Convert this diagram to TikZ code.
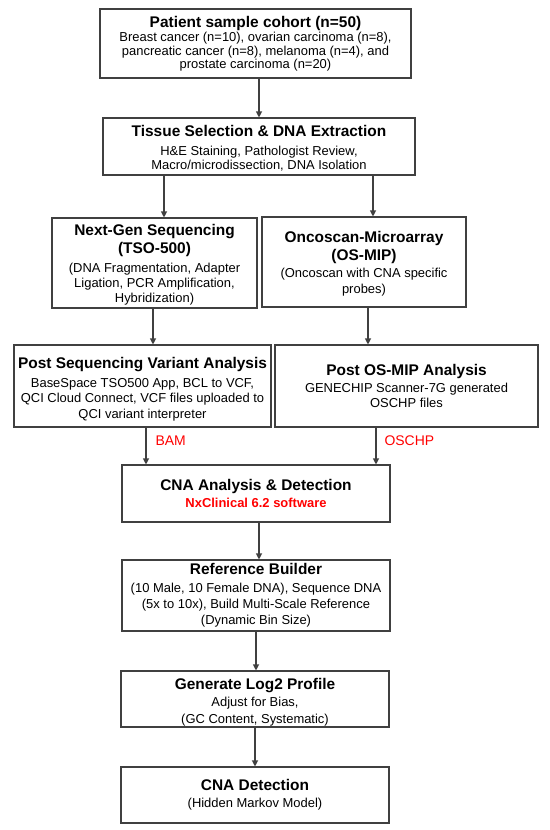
\documentclass[tikz,border=0pt]{standalone}
\usepackage{fontspec}
\setmainfont{Liberation Sans}
\usetikzlibrary{arrows.meta}
\definecolor{edge}{HTML}{404040}
\definecolor{lab}{HTML}{FF0000}
\tikzset{
  box/.style={draw=edge, line width=1.1bp, fill=white, align=center, inner xsep=2bp, inner ysep=0bp,
    font=\fontsize{13}{15.5}\selectfont},
  arr/.style={draw=edge, line width=1.1bp, -{Triangle[length=6bp,width=6bp]}},
  redlab/.style={text=lab, font=\fontsize{14}{16}\selectfont, anchor=west, inner sep=0pt}
}
\newcommand{\ttl}[1]{{\fontsize{15.5}{17}\selectfont\bfseries #1}}
\newcommand{\lift}[1]{\rule{0pt}{#1bp}}
\begin{document}
\begin{tikzpicture}[x=1bp,y=-1bp]
\useasboundingbox (0,0) rectangle (550,830);
\node[box, font=\fontsize{13}{13.3}\selectfont, minimum width=311bp, minimum height=69bp] (P) at (255.5,43.5)
  {\ttl{Patient sample cohort (n=50)}\\[1.7bp]Breast cancer (n=10), ovarian carcinoma (n=8),\\pancreatic cancer (n=8), melanoma (n=4), and\\prostate carcinoma (n=20)};
\node[box, font=\fontsize{13}{14}\selectfont, minimum width=312bp, minimum height=57bp] (T) at (259,146.5)
  {\lift{14.5}\ttl{Tissue Selection \& DNA Extraction}\\[4.5bp]H\&E Staining, Pathologist Review,\\Macro/microdissection, DNA Isolation};
\node[box, minimum width=205bp, minimum height=90bp] (N) at (154.5,263)
  {\lift{15.3}\ttl{Next-Gen Sequencing}\\[2.5bp]\ttl{(TSO-500)}\\[3bp](DNA Fragmentation, Adapter\\Ligation, PCR Amplification,\\Hybridization)};
\node[box, minimum width=204bp, minimum height=90bp] (O) at (364,262)
  {\lift{14.5}\ttl{Oncoscan-Microarray}\\[2.5bp]\ttl{(OS-MIP)}\\[2bp](Oncoscan with CNA specific\\probes)};
\node[box, minimum width=257bp, minimum height=82bp] (PS) at (142.5,386)
  {\lift{17}\ttl{Post Sequencing Variant Analysis}\\[3.5bp]BaseSpace TSO500 App, BCL to VCF,\\QCI Cloud Connect, VCF files uploaded to\\QCI variant interpreter};
\node[box, minimum width=263bp, minimum height=82bp] (OM) at (406.5,386)
  {\ttl{Post OS-MIP Analysis}\\[1.5bp]GENECHIP Scanner-7G generated\\OSCHP files};
\node[box, minimum width=268bp, minimum height=57bp] (C) at (256,493.5)
  {\ttl{CNA Analysis \& Detection}\\[1.5bp]{\color{lab}\bfseries NxClinical 6.2 software}};
\node[box, font=\fontsize{13}{16}\selectfont, minimum width=268bp, minimum height=71bp] (R) at (256,595.5)
  {\ttl{Reference Builder}\\[2bp](10 Male, 10 Female DNA), Sequence DNA\\(5x to 10x), Build Multi-Scale Reference\\(Dynamic Bin Size)};
\node[box, font=\fontsize{13}{16.5}\selectfont, minimum width=268bp, minimum height=56bp] (L) at (255,699)
  {\lift{18}\ttl{Generate Log2 Profile}\\[0.5bp]Adjust for Bias,\\(GC Content, Systematic)};
\node[box, font=\fontsize{13}{16.5}\selectfont, minimum width=268bp, minimum height=56bp] (D) at (255,795)
  {\ttl{CNA Detection}\\[0.5bp](Hidden Markov Model)};
\draw[arr] (T.north |- P.south) -- (T.north);
\draw[arr] ([xshift=9.5bp]T.south -| N.north) -- ([xshift=9.5bp]N.north);
\draw[arr] ([xshift=9bp]T.south -| O.north) -- ([xshift=9bp]O.north);
\draw[arr] ([xshift=-1.5bp]N.south) -- ([xshift=-1.5bp]N.south |- PS.north);
\draw[arr] ([xshift=4bp]O.south) -- ([xshift=4bp]O.south |- OM.north);
\draw[arr] ([xshift=3.5bp]PS.south) -- ([xshift=3.5bp]PS.south |- C.north)
  node[redlab, pos=0.35, xshift=9bp] (bam) {BAM};
\draw[arr] ([xshift=-30.5bp]OM.south) -- ([xshift=-30.5bp]OM.south |- C.north)
  node[redlab, pos=0.35, xshift=8bp] (oschp) {OSCHP};
\draw[arr] ([xshift=3bp]C.south) -- ([xshift=3bp]C.south |- R.north);
\draw[arr] (R.south) -- (R.south |- L.north);
\draw[arr] (L.south) -- (L.south |- D.north);
\end{tikzpicture}
\end{document}
